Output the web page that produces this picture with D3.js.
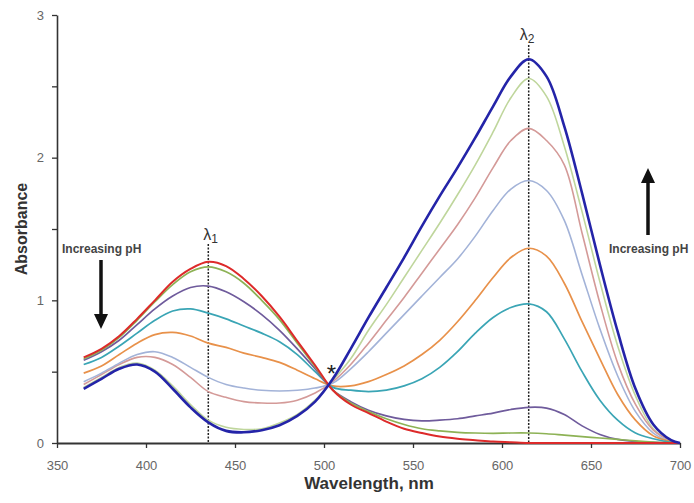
<!DOCTYPE html>
<html>
<head>
<meta charset="utf-8">
<script src="https://cdn.jsdelivr.net/npm/d3@7"></script>
<style>
  html, body { margin: 0; padding: 0; background: #fff; }
  svg { display: block; font-family: "Liberation Sans", Arial, sans-serif; }
</style>
</head>
<body>
<svg id="chart" width="694" height="503"></svg>
<script>
// ---------------- DATA ----------------
const wavelengths = [365,375,385,395,405,415,425,435,445,455,465,475,485,495,505,515,525,535,545,555,565,575,585,595,605,615,625,635,645,655,665,675,685,695,700];

const redSeries        = [0.60,0.66,0.75,0.87,1.00,1.13,1.22,1.27,1.24,1.15,1.03,0.885,0.715,0.545,0.37,0.27,0.21,0.15,0.10,0.07,0.045,0.03,0.02,0.01,0.005,0,0,0,0,0,0,0,0,0,0];
const greenSeries      = [0.59,0.65,0.74,0.86,0.99,1.11,1.20,1.235,1.20,1.12,1.00,0.865,0.70,0.535,0.37,0.28,0.22,0.17,0.13,0.10,0.085,0.075,0.07,0.068,0.07,0.07,0.065,0.055,0.045,0.035,0.025,0.015,0.007,0.002,0];
const purpleSeries     = [0.58,0.64,0.72,0.83,0.94,1.03,1.09,1.10,1.06,0.99,0.90,0.79,0.66,0.52,0.37,0.29,0.23,0.19,0.165,0.155,0.16,0.17,0.19,0.21,0.235,0.25,0.245,0.20,0.12,0.06,0.025,0.01,0.004,0.001,0];
const tealSeries       = [0.55,0.60,0.68,0.77,0.86,0.925,0.94,0.91,0.87,0.82,0.77,0.71,0.62,0.50,0.39,0.37,0.36,0.37,0.40,0.45,0.53,0.64,0.77,0.88,0.95,0.975,0.92,0.73,0.50,0.30,0.16,0.07,0.03,0.005,0];
const orangeSeries     = [0.49,0.54,0.62,0.70,0.76,0.775,0.75,0.70,0.67,0.63,0.60,0.565,0.51,0.45,0.40,0.40,0.43,0.48,0.54,0.62,0.72,0.85,1.00,1.16,1.30,1.365,1.31,1.12,0.85,0.59,0.34,0.16,0.05,0.01,0];
const lightBlueSeries  = [0.43,0.49,0.56,0.62,0.64,0.60,0.53,0.46,0.41,0.385,0.37,0.365,0.37,0.385,0.42,0.52,0.64,0.77,0.90,1.03,1.16,1.29,1.45,1.63,1.78,1.84,1.77,1.56,1.18,0.80,0.47,0.22,0.07,0.01,0];
const pinkSeries       = [0.41,0.48,0.55,0.60,0.60,0.55,0.46,0.36,0.32,0.29,0.28,0.28,0.30,0.35,0.43,0.55,0.70,0.86,1.02,1.19,1.36,1.53,1.72,1.93,2.12,2.205,2.12,1.95,1.47,0.98,0.56,0.27,0.09,0.015,0];
const lightGreenSeries = [0.39,0.46,0.53,0.56,0.51,0.40,0.27,0.16,0.11,0.095,0.10,0.14,0.20,0.30,0.44,0.59,0.79,0.97,1.16,1.35,1.54,1.74,1.95,2.18,2.42,2.555,2.43,2.08,1.62,1.13,0.68,0.33,0.10,0.015,0];
const blueSeries       = [0.38,0.45,0.52,0.55,0.50,0.38,0.25,0.145,0.085,0.075,0.09,0.125,0.19,0.29,0.45,0.66,0.88,1.09,1.30,1.52,1.73,1.93,2.14,2.36,2.57,2.69,2.57,2.22,1.75,1.25,0.78,0.38,0.13,0.02,0];

const xTicks = [350,400,450,500,550,600,650,700];
const yTicks = [0,0.5,1,1.5,2,2.5,3];
const lambda1 = 435;
const lambda2 = 615;
const isosbestic = [503, 0.40];

// ---------------- LAYOUT ----------------
const svg = d3.select("#chart");
const x = d3.scaleLinear().domain([350, 700]).range([57, 680]);
const y = d3.scaleLinear().domain([0, 3]).range([443, 15]);

const seriesList = [
  { values: lightGreenSeries, color: "#bfd69c", width: 1.6 },
  { values: pinkSeries,       color: "#d49a98", width: 1.6 },
  { values: lightBlueSeries,  color: "#a3b3d8", width: 1.6 },
  { values: orangeSeries,     color: "#e8914a", width: 1.7 },
  { values: tealSeries,       color: "#3aa5b5", width: 1.7 },
  { values: purpleSeries,     color: "#6f5b9c", width: 1.7 },
  { values: greenSeries,      color: "#8db255", width: 1.7 },
  { values: redSeries,        color: "#dd2a2a", width: 2.0 },
  { values: blueSeries,       color: "#2424a8", width: 2.6 }
];

// axes
const yAxis = d3.axisLeft(y).tickValues(yTicks)
  .tickFormat(d => Number.isInteger(d) ? d : "")
  .tickSize(5).tickSizeOuter(0).tickPadding(8);
const xAxis = d3.axisBottom(x).tickValues(xTicks)
  .tickSize(5).tickSizeOuter(0).tickPadding(13);

const gy = svg.append("g").attr("transform", "translate(57,0)").call(yAxis);
const gx = svg.append("g").attr("transform", "translate(0,443)").call(xAxis);

[gx, gy].forEach(g => {
  g.selectAll("text").attr("fill", "#666").style("font-size", "13px")
    .style("font-family", "'Liberation Sans', Arial, sans-serif");
  g.selectAll("line").attr("stroke", "#333").attr("stroke-width", 1.3);
});
gy.select(".domain").attr("stroke", "#333").attr("stroke-width", 1.6);
gx.select(".domain").attr("stroke", "#333").attr("stroke-width", 2);

// dotted wavelength markers
svg.append("line").attr("x1", x(lambda1)).attr("x2", x(lambda1))
  .attr("y1", 244).attr("y2", y(0))
  .attr("stroke", "#222").attr("stroke-width", 1.5).attr("stroke-dasharray", "2,1.5");
svg.append("line").attr("x1", x(lambda2)).attr("x2", x(lambda2))
  .attr("y1", 45).attr("y2", y(0))
  .attr("stroke", "#222").attr("stroke-width", 1.5).attr("stroke-dasharray", "2,1.5");

// curves
const line = d3.line().curve(d3.curveCatmullRom.alpha(0.5))
  .x((d, i) => x(wavelengths[i])).y(d => y(Math.max(0, d)));
svg.append("g").selectAll("path").data(seriesList).join("path")
  .attr("d", s => line(s.values))
  .attr("fill", "none")
  .attr("stroke", s => s.color)
  .attr("stroke-width", s => s.width)
  .attr("stroke-linejoin", "round");

// lambda labels
const l1 = svg.append("text").attr("x", x(lambda1) - 5).attr("y", 240)
  .attr("fill", "#333").style("font-size", "16px").text("λ");
l1.append("tspan").attr("dy", 3).style("font-size", "12px").text("1");
const l2 = svg.append("text").attr("x", x(lambda2) - 9).attr("y", 40)
  .attr("fill", "#333").style("font-size", "16px").text("λ");
l2.append("tspan").attr("dy", 3).style("font-size", "12px").text("2");

// isosbestic point marker
svg.append("text").attr("x", x(isosbestic[0]) + 2).attr("y", y(isosbestic[1]) - 4)
  .attr("text-anchor", "middle").attr("fill", "#222")
  .style("font-size", "24px").text("*");

// annotations
svg.append("text").attr("x", 62).attr("y", 253).attr("fill", "#444")
  .style("font-size", "12px").style("font-weight", "bold").text("Increasing pH");
svg.append("text").attr("x", 609).attr("y", 253).attr("fill", "#444")
  .style("font-size", "12px").style("font-weight", "bold").text("Increasing pH");

// arrows
svg.append("line").attr("x1", 101).attr("x2", 101).attr("y1", 260).attr("y2", 316)
  .attr("stroke", "#111").attr("stroke-width", 3.5);
svg.append("path").attr("d", "M94,314 L108,314 L101,329 Z").attr("fill", "#111");
svg.append("line").attr("x1", 648).attr("x2", 648).attr("y1", 235).attr("y2", 181)
  .attr("stroke", "#111").attr("stroke-width", 3.5);
svg.append("path").attr("d", "M641,183 L655,183 L648,168 Z").attr("fill", "#111");

// axis titles
svg.append("text").attr("x", 369).attr("y", 489).attr("text-anchor", "middle")
  .attr("fill", "#333").style("font-size", "17px").style("font-weight", "bold")
  .text("Wavelength, nm");
svg.append("text").attr("transform", "translate(27,229) rotate(-90)")
  .attr("text-anchor", "middle").attr("fill", "#333")
  .style("font-size", "16px").style("font-weight", "bold").text("Absorbance");
</script>
</body>
</html>
